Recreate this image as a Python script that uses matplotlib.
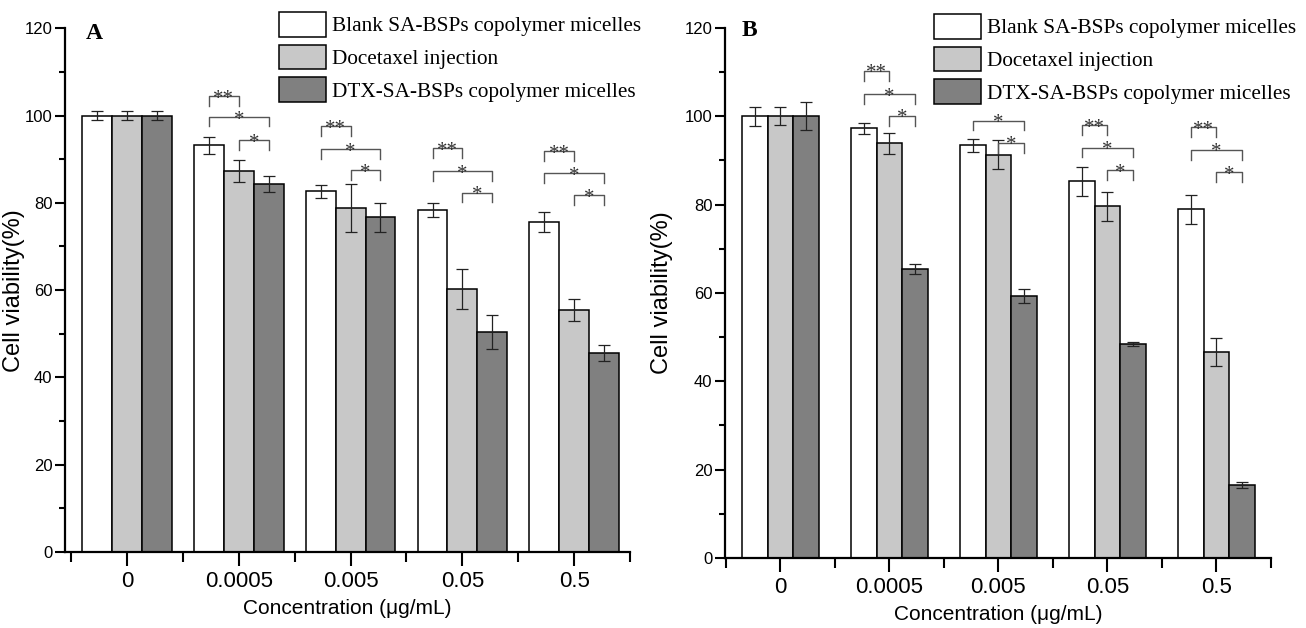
import matplotlib
matplotlib.use("Agg")
import matplotlib.pyplot as plt
from matplotlib.ticker import MultipleLocator
import numpy as np

concentrations = ["0", "0.0005", "0.005", "0.05", "0.5"]
series_names = ["Blank SA-BSPs copolymer micelles", "Docetaxel injection",
                "DTX-SA-BSPs copolymer micelles"]
series_colors = ["white", "#c8c8c8", "#808080"]

# panel A
a_blank = [100, 93.2, 82.7, 78.3, 75.6]
a_blank_err = [1.1, 1.9, 1.5, 1.6, 2.3]
a_docetaxel = [100, 87.3, 78.8, 60.3, 55.5]
a_docetaxel_err = [1.1, 2.5, 5.5, 4.6, 2.5]
a_dtx = [100, 84.3, 76.7, 50.4, 45.6]
a_dtx_err = [1.1, 1.9, 3.3, 3.8, 1.8]
# (group, bar from, bar to, height, label)
a_brackets = [(1, 0, 1, 104.5, "**"), (1, 0, 2, 99.7, "*"), (1, 1, 2, 94.4, "*"),
              (2, 0, 1, 97.6, "**"), (2, 0, 2, 92.3, "*"), (2, 1, 2, 87.5, "*"),
              (3, 0, 1, 92.5, "**"), (3, 0, 2, 87.3, "*"), (3, 1, 2, 82.3, "*"),
              (4, 0, 1, 91.9, "**"), (4, 0, 2, 86.8, "*"), (4, 1, 2, 81.8, "*")]

# panel B
b_blank = [100, 97.3, 93.4, 85.3, 78.9]
b_blank_err = [2.2, 1.2, 1.5, 3.3, 3.2]
b_docetaxel = [100, 93.9, 91.3, 79.6, 46.6]
b_docetaxel_err = [2.0, 2.4, 3.3, 3.3, 3.2]
b_dtx = [100, 65.4, 59.3, 48.4, 16.5]
b_dtx_err = [3.2, 1.1, 1.6, 0.4, 0.6]
b_brackets = [(1, 0, 1, 110.3, "**"), (1, 0, 2, 105.0, "*"), (1, 1, 2, 100.1, "*"),
              (2, 0, 2, 99.0, "*"), (2, 1, 2, 94.0, "*"),
              (3, 0, 1, 98.0, "**"), (3, 0, 2, 92.9, "*"), (3, 1, 2, 87.8, "*"),
              (4, 0, 1, 97.6, "**"), (4, 0, 2, 92.4, "*"), (4, 1, 2, 87.4, "*")]

sans = ["Liberation Sans", "DejaVu Sans"]
serif = ["Liberation Serif", "DejaVu Serif"]


def draw_panel(ax, values, errors, brackets, width, letter, xmin, letter_pos,
               ylabel_x, legend_pos):
    x = np.arange(len(concentrations))
    offsets = [-width, 0, width]
    handles = []
    for vals, errs, color, off in zip(values, errors, series_colors, offsets):
        b = ax.bar(x + off, vals, width, color=color, edgecolor="black", linewidth=1.1)
        ax.errorbar(x + off, vals, yerr=errs, fmt="none", ecolor="#222222",
                    elinewidth=0.9, capsize=4, capthick=0.9)
        handles.append(b)

    leg = 2.2
    for group, i, j, h, label in brackets:
        x1 = group + offsets[i]
        x2 = group + offsets[j]
        ax.plot([x1, x1, x2, x2], [h - leg, h, h, h - leg], color="#555555",
                linewidth=1.0, clip_on=False)
        ax.annotate(label, ((x1 + x2) / 2, h), xytext=(0, -5.5), textcoords="offset points",
                    ha="center", va="baseline", fontsize=15, family=serif,
                    color="#333333")

    ax.set_xlim(xmin, 4.5)
    ax.set_ylim(0, 120)
    ax.spines["top"].set_visible(False)
    ax.spines["right"].set_visible(False)
    ax.spines["left"].set_linewidth(1.6)
    ax.spines["bottom"].set_linewidth(1.6)
    ax.set_xticks(x)
    ax.set_xticks(np.arange(-0.5, 4.6, 1), minor=True)
    ax.set_xticklabels(concentrations, fontsize=16, family=sans)
    ax.yaxis.set_major_locator(MultipleLocator(20))
    ax.yaxis.set_minor_locator(MultipleLocator(10))
    for lab in ax.get_yticklabels():
        lab.set_fontsize(12)
        lab.set_family(sans)
    ax.tick_params(axis="y", which="major", direction="out", length=7, width=1.5, pad=2)
    ax.tick_params(axis="y", which="minor", direction="out", length=4, width=1.5)
    ax.tick_params(axis="x", which="major", direction="out", length=10, width=1.5, pad=4)
    ax.tick_params(axis="x", which="minor", direction="out", length=7, width=1.5)
    ax.set_xlabel("Concentration (μg/mL)", fontsize=15, family=sans, labelpad=5)
    ax.set_ylabel("Cell viability(%)", fontsize=17, family=sans)
    ax.yaxis.set_label_coords(ylabel_x, 0.5)
    ax.text(letter_pos[0], letter_pos[1], letter, transform=ax.transAxes, fontsize=17,
            fontweight="bold", family=serif, ha="left", va="center")
    ax.figure.legend(handles, series_names, loc="upper left", bbox_to_anchor=legend_pos,
                     frameon=False, prop={"family": serif, "size": 15.3},
                     handlelength=2.2, handleheight=1.4, labelspacing=0.38,
                     handletextpad=0.28, borderpad=0, borderaxespad=0)


fig = plt.figure(figsize=(13.06, 6.28), dpi=100)
ax_a = fig.add_axes([0.0498, 0.121, 0.4326, 0.834])
ax_b = fig.add_axes([0.555, 0.1115, 0.418, 0.844])

draw_panel(ax_a, [a_blank, a_docetaxel, a_dtx], [a_blank_err, a_docetaxel_err, a_dtx_err],
           a_brackets, 0.267, "A", -0.555, (0.037, 0.99), -0.07,
           (279 / 1306, 1 - 12 / 628))
draw_panel(ax_b, [b_blank, b_docetaxel, b_dtx], [b_blank_err, b_docetaxel_err, b_dtx_err],
           b_brackets, 0.234, "B", -0.51, (0.031, 0.996), -0.095,
           (934 / 1306, 1 - 14 / 628))

fig.savefig("out.png", dpi=100)
